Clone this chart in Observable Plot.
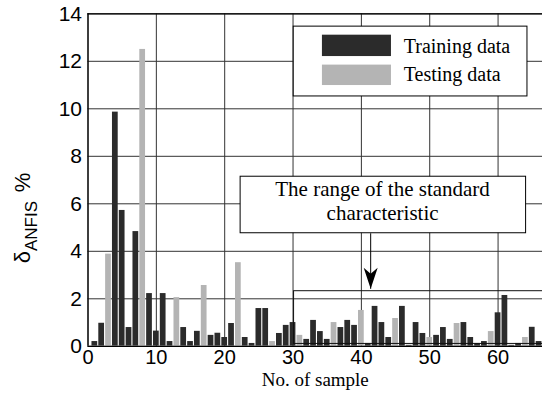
<!DOCTYPE html>
<html><head><meta charset="utf-8">
<script src="https://cdn.jsdelivr.net/npm/d3@7"></script>
<script src="https://cdn.jsdelivr.net/npm/@observablehq/plot@0.6"></script>
<style>body{margin:0;background:#fff;} #chart{width:542px;height:398px;}</style>
</head><body><div id="chart"></div>
<script>
// ---- data ----
const samples = d3.range(1, 67);
const values = [0.2, 0.97, 3.88, 9.86, 5.72, 0.79, 4.83, 12.5, 2.22, 0.64,
  2.22, 0.2, 2.05, 0.79, 0.2, 0.63, 2.56, 0.46, 0.55, 0.37,
  0.96, 3.52, 0.37, 0.12, 1.59, 1.59, 0.2, 0.54, 0.88, 1.0,
  0.46, 0.29, 1.09, 0.62, 0.29, 1.0, 0.79, 1.09, 0.88, 1.51,
  0.12, 1.68, 1.0, 0.37, 1.17, 1.68, 0.04, 1.0, 0.54, 0.37,
  0.46, 0.79, 0.29, 0.96, 1.0, 0.37, 0.12, 0.2, 0.62, 1.41,
  2.14, 0.04, 0.12, 0.37, 0.8, 0.2];
const seriesCode = "TTSTTTTSTTTTSTTTSTTTTSTTTTSTTTSTTTTSTTTSTTTTSTTTTSTTTSTTTTSTTTTSTT";
const seriesNames = ["Training data", "Testing data"];
const seriesColors = ["#2b2b2b", "#b4b4b4"];
const xTicks = [0, 10, 20, 30, 40, 50, 60];
const yTicks = [0, 2, 4, 6, 8, 10, 12, 14];
const annotationLines = ["The range of the standard", "characteristic"];

// annotation / legend placement (data coordinates)
const rangeBox = {x1: 30.15, x2: 68, y1: 0.1, y2: 2.32};
const noteBox = {x1: 22.33, x2: 64.1, y1: 4.76, y2: 7.14};
const noteText = {x: 43.1, y: [6.62, 5.62]};
const arrow = {x: 41.36, y1: 4.76, y2: 2.42};
const legendBox = {x1: 30.1, x2: 64.3, y1: 10.52, y2: 13.46};
const legendSwatch = {x1: 34.3, x2: 44.4, y: [[12.2, 13.1], [10.98, 11.84]]};
const legendText = {x: 46.2, y: [12.64, 11.42]};

const data = samples.map((s, i) => ({
  sample: s, value: values[i], series: seriesCode[i] === "T" ? seriesNames[0] : seriesNames[1]
}));
const legendData = seriesNames.map((n, i) => ({name: n, y1: legendSwatch.y[i][0], y2: legendSwatch.y[i][1], ty: legendText.y[i]}));
const noteData = annotationLines.map((t, i) => ({t, y: noteText.y[i]}));

const serif = "'Liberation Serif', 'Times New Roman', serif";
const sans = "'Liberation Sans', Arial, Helvetica, sans-serif";

// notched arrowhead symbol, tip at the origin pointing down
const arrowHead = {
  draw(context) {
    context.moveTo(0, 0);
    context.lineTo(-7, -21);
    context.lineTo(0, -15);
    context.lineTo(7, -21);
    context.closePath();
  }
};

const plot = Plot.plot({
  width: 542, height: 398,
  marginLeft: 87.5, marginRight: 0, marginTop: 13.3, marginBottom: 52.2,
  style: {fontFamily: sans, fontSize: "20px", background: "#fff", color: "#000"},
  x: {domain: [0, 66.5], label: null},
  y: {domain: [0, 14], label: null},
  color: {domain: seriesNames, range: seriesColors},
  marks: [
    Plot.gridX(xTicks, {stroke: "#333", strokeOpacity: 1, strokeWidth: 1}),
    Plot.gridY(yTicks, {stroke: "#333", strokeOpacity: 1, strokeWidth: 1}),
    Plot.rectY(data, {x1: d => d.sample - 0.42, x2: d => d.sample + 0.42, y: "value", fill: "series", clip: true}),
    Plot.rect([rangeBox], {x1: "x1", x2: "x2", y1: "y1", y2: "y2", fill: "none", stroke: "#111", strokeWidth: 1, clip: true}),
    // annotation
    Plot.rect([noteBox], {x1: "x1", x2: "x2", y1: "y1", y2: "y2", fill: "#fff", stroke: "#000", strokeWidth: 1}),
    Plot.text(noteData, {x: noteText.x, y: "y", text: "t", fontFamily: serif, fontSize: 21, fill: "#000"}),
    Plot.link([arrow], {x1: "x", x2: "x", y1: "y1", y2: "y2", stroke: "#000", strokeWidth: 1}),
    Plot.dot([arrow], {x: "x", y: "y2", symbol: arrowHead, r: 7, fill: "#000", stroke: "none"}),
    // legend
    Plot.rect([legendBox], {x1: "x1", x2: "x2", y1: "y1", y2: "y2", fill: "#fff", stroke: "#000", strokeWidth: 1}),
    Plot.rect(legendData, {x1: legendSwatch.x1, x2: legendSwatch.x2, y1: "y1", y2: "y2", fill: "name"}),
    Plot.text(legendData, {x: legendText.x, y: "ty", text: "name", textAnchor: "start", fontFamily: serif, fontSize: 20, fill: "#000"}),
    // axes and frame
    Plot.axisX(xTicks, {tickSize: 0, tickPadding: 3, fontSize: 20, label: null}),
    Plot.axisY(yTicks, {tickSize: 0, tickPadding: 6, fontSize: 21, label: null}),
    Plot.ruleY([0, 14], {stroke: "#000", strokeWidth: 1.2}),
    Plot.ruleX([0], {stroke: "#000", strokeWidth: 1.2}),
    Plot.text(["No. of sample"], {frameAnchor: "bottom", dy: 40, text: d => d, fontFamily: serif, fontSize: 19, fill: "#000"})
  ]
});
document.getElementById("chart").appendChild(plot);

// y-axis label with subscript
const svg = d3.select(plot);
const lab = svg.append("text")
  .attr("transform", "translate(30,218) rotate(-90)")
  .attr("text-anchor", "middle")
  .attr("font-family", sans)
  .attr("font-size", 22)
  .attr("fill", "#000");
lab.append("tspan").text("δ");
lab.append("tspan").attr("font-size", 17).attr("dy", 7).text("ANFIS");
lab.append("tspan").attr("dy", -7).text("\u2009\u2009%");
</script>
</body></html>
